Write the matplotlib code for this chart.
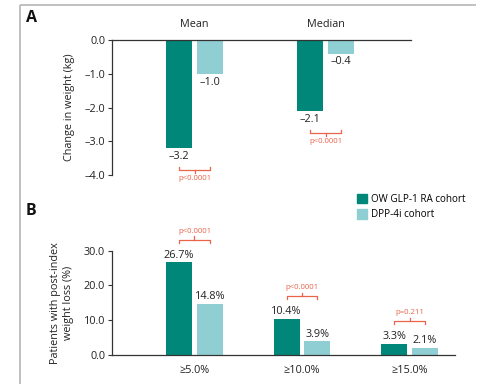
import matplotlib
matplotlib.use("Agg")
import matplotlib.pyplot as plt
from matplotlib.lines import Line2D
from matplotlib.patches import Patch

plt.rcParams['font.family'] = ['Open Sans', 'DejaVu Sans']

# Data
a_categories = ["Mean", "Median"]
a_glp1 = [-3.2, -2.1]
a_dpp4 = [-1.0, -0.4]
a_pvals = ["p<0.0001", "p<0.0001"]
a_yticks = [0.0, -1.0, -2.0, -3.0, -4.0]

b_categories = ["≥5.0%", "≥10.0%", "≥15.0%"]
b_glp1 = [26.7, 10.4, 3.3]
b_dpp4 = [14.8, 3.9, 2.1]
b_pvals = ["p<0.0001", "p<0.0001", "p=0.211"]
b_yticks = [0.0, 10.0, 20.0, 30.0]

series_names = ["OW GLP-1 RA cohort", "DPP-4i cohort"]

DARK = "#00877a"
LIGHT = "#8fcfd4"
PCOL = "#e8654a"
AXC = "#333333"
TXT = "#222222"
FS = 7.8
PFS = 5.6

W, H = 478, 384
fig = plt.figure(figsize=(W / 100, H / 100), dpi=100)

# Frame
fig.add_artist(Line2D([19.5 / W, 476 / W], [1 - 4.5 / H, 1 - 4.5 / H], color="#b5b5b5", lw=1.2,
                      transform=fig.transFigure, solid_capstyle="butt"))
fig.add_artist(Line2D([19.5 / W, 19.5 / W], [0, 1 - 4.5 / H], color="#b5b5b5", lw=1.2,
                      transform=fig.transFigure, solid_capstyle="butt"))

def fmt_neg(v):
    return ("\u2013" if v < 0 else "") + f"{abs(v):.1f}"

# ---------------- Panel A ----------------
axA = fig.add_axes([112 / W, 1 - 175 / H, 299 / W, 135 / H])
xa = list(range(len(a_categories)))
wa, oa = 0.198, 0.118
axA.bar([x - oa for x in xa], a_glp1, width=wa, color=DARK)
axA.bar([x + oa for x in xa], a_dpp4, width=wa, color=LIGHT)
axA.set_xlim(-0.63, 1.65)
axA.set_ylim(-4.0, 0.0)
axA.set_yticks(a_yticks)
axA.set_yticklabels([fmt_neg(v) if v != 0 else "0.0" for v in a_yticks], fontsize=FS, color=TXT)
axA.xaxis.tick_top()
axA.set_xticks(xa)
axA.set_xticklabels(a_categories, fontsize=FS, color=TXT)
axA.tick_params(axis="x", length=0, pad=7)
axA.tick_params(axis="y", length=3, width=0.8, color=AXC, pad=2)
for s in ["right", "bottom"]:
    axA.spines[s].set_visible(False)
for s in ["left", "top"]:
    axA.spines[s].set_color(AXC)
    axA.spines[s].set_linewidth(0.9)
axA.set_ylabel("Change in weight (kg)", fontsize=FS, color=TXT, labelpad=7)

for i, x in enumerate(xa):
    for xx, v in ((x - oa, a_glp1[i]), (x + oa, a_dpp4[i])):
        axA.annotate(fmt_neg(v), (xx, v), xytext=(0, -2), textcoords="offset points",
                     ha="center", va="top", fontsize=FS, color=TXT, annotation_clip=False)
    yb = a_glp1[i] - 0.65
    x0, x1 = x - oa, x + oa
    tk = 0.09
    axA.plot([x0, x0, x1, x1], [yb + tk, yb, yb, yb + tk], color=PCOL, lw=0.9, clip_on=False)
    axA.plot([x, x], [yb, yb - tk], color=PCOL, lw=0.9, clip_on=False)
    axA.text(x, yb - 0.15, a_pvals[i], ha="center", va="top", fontsize=PFS, color=PCOL)

fig.text(26 / W, 1 - 18.5 / H, "A", fontsize=11.5, fontweight="bold", va="center", ha="left", color="#111111")

# ---------------- Panel B ----------------
axB = fig.add_axes([112 / W, 1 - 355 / H, 343 / W, 104.3 / H])
xb = list(range(len(b_categories)))
wb, ob = 0.242, 0.144
axB.bar([x - ob for x in xb], b_glp1, width=wb, color=DARK, label=series_names[0])
axB.bar([x + ob for x in xb], b_dpp4, width=wb, color=LIGHT, label=series_names[1])
axB.set_xlim(-0.767, 2.423)
axB.set_ylim(0, 30)
axB.set_yticks(b_yticks)
axB.set_yticklabels([f"{v:.1f}" for v in b_yticks], fontsize=FS, color=TXT)
axB.set_xticks(xb)
axB.set_xticklabels(b_categories, fontsize=FS, color=TXT)
axB.tick_params(axis="x", length=0, pad=7)
axB.tick_params(axis="y", length=3, width=0.8, color=AXC, pad=2)
for s in ["right", "top"]:
    axB.spines[s].set_visible(False)
for s in ["left", "bottom"]:
    axB.spines[s].set_color(AXC)
    axB.spines[s].set_linewidth(0.9)
axB.set_ylabel("Patients with post-index\nweight loss (%)", fontsize=FS, color=TXT, labelpad=7, linespacing=1.2)

for i, x in enumerate(xb):
    for xx, v in ((x - ob, b_glp1[i]), (x + ob, b_dpp4[i])):
        axB.annotate(f"{v:.1f}%", (xx, v), xytext=(0, 1), textcoords="offset points",
                     ha="center", va="bottom", fontsize=FS, color=TXT, annotation_clip=False)
    yb = b_glp1[i] + 6.5
    x0, x1 = x - ob, x + ob
    tk = 0.9
    axB.plot([x0, x0, x1, x1], [yb - tk, yb, yb, yb - tk], color=PCOL, lw=0.9, clip_on=False)
    axB.plot([x, x], [yb, yb + tk], color=PCOL, lw=0.9, clip_on=False)
    axB.text(x, yb + 1.4, b_pvals[i], ha="center", va="bottom", fontsize=PFS, color=PCOL)

fig.text(26 / W, 1 - 211 / H, "B", fontsize=11.5, fontweight="bold", va="center", ha="left", color="#111111")

handles = [Patch(color=DARK), Patch(color=LIGHT)]
fig.legend(handles, series_names, loc="upper left", bbox_to_anchor=(357 / W, 1 - 193.5 / H),
           frameon=False, fontsize=7.1, handlelength=1.05, handleheight=1.05, handletextpad=0.35,
           labelspacing=0.5, borderaxespad=0, borderpad=0)

fig.savefig("out.png", dpi=100)
